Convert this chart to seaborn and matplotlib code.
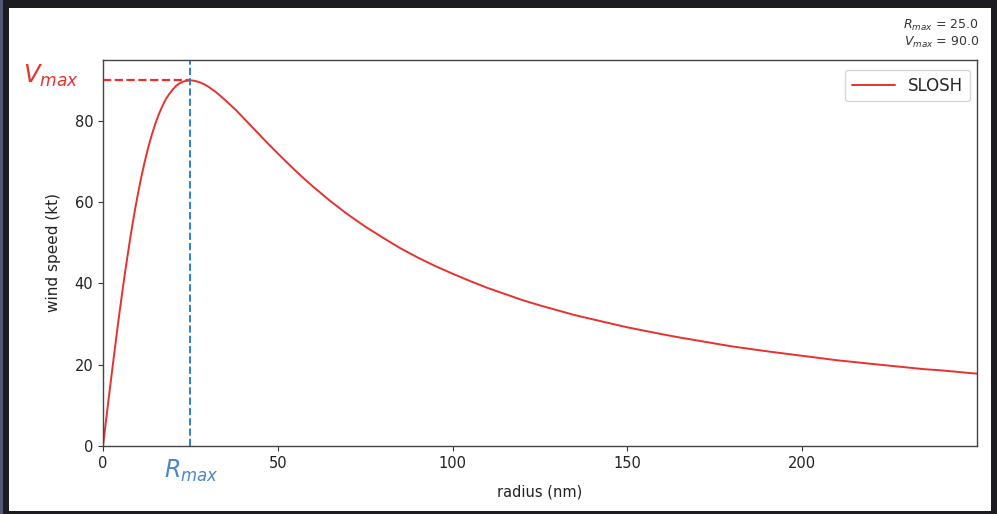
import numpy as np
import pandas as pd
import matplotlib
matplotlib.use("Agg")
import matplotlib.pyplot as plt
import seaborn as sns
from matplotlib.patches import Rectangle

# ---- data ----
radius_nm = [0, 0.5, 1, 1.5, 2, 2.5, 3, 3.5, 4, 4.5, 5, 5.5, 6, 7, 8, 9, 10, 11, 12, 13,
             14, 15, 16, 17, 18, 19, 20, 21, 22, 23, 24, 25, 26, 27, 28, 29, 30, 32,
             33, 35, 36, 38, 40, 42, 45, 47, 50, 52, 55, 57, 60, 65, 70, 75, 80, 85,
             90, 95, 100, 105, 110, 115, 120, 125, 130, 135, 140, 150, 160, 165, 180,
             190, 200, 210, 220, 235, 240, 250]
wind_kt = [0.0, 3.6, 7.2, 10.8, 14.3, 17.8, 21.3, 24.7, 28.1, 31.4, 34.6, 37.8, 40.9,
           46.7, 52.3, 57.4, 62.1, 66.4, 70.2, 73.7, 76.7, 79.4, 81.7, 83.7, 85.4,
           86.7, 87.8, 88.7, 89.3, 89.7, 89.9, 90.0, 89.9, 89.7, 89.4, 89.0, 88.5,
           87.3, 86.6, 85.1, 84.3, 82.7, 80.9, 79.1, 76.4, 74.6, 72.0, 70.3, 67.8,
           66.2, 63.9, 60.3, 57.0, 54.0, 51.3, 48.7, 46.4, 44.3, 42.4, 40.6, 38.9,
           37.4, 35.9, 34.6, 33.4, 32.2, 31.2, 29.2, 27.5, 26.7, 24.5, 23.3, 22.2,
           21.1, 20.2, 18.9, 18.6, 17.8]
series_label = "SLOSH"
r_max = 25.0
v_max = 90.0
x_ticks = [0, 50, 100, 150, 200]
y_ticks = [0, 20, 40, 60, 80]

df = pd.DataFrame({"radius (nm)": radius_nm, "wind speed (kt)": wind_kt})

sns.set_style("ticks")
plt.rcParams['font.family'] = ['DejaVu Sans']

W, H = 997, 514
fig = plt.figure(figsize=(W / 100, H / 100), dpi=100, facecolor="#1d1c22")
# white figure area inside the dark screenshot frame
fig.patches.append(Rectangle((9 / W, 3 / H), (991 - 9) / W, (506 - 3) / H,
                             transform=fig.transFigure, facecolor="white",
                             edgecolor="none", zorder=-10))
fig.patches.append(Rectangle((0, 0), 3 / W, 1, transform=fig.transFigure,
                             facecolor="#4f5a78", edgecolor="none", zorder=-10))

ax = fig.add_axes([103 / W, (H - 446) / H, (977 - 103) / W, (446 - 60) / H])
ax.set_facecolor("white")

red = "#e8312f"
blue = "#2f7fd0"

sns.lineplot(data=df, x="radius (nm)", y="wind speed (kt)", ax=ax, color=red,
             linewidth=1.4, label=series_label)

ax.plot([0, r_max], [v_max, v_max], ls="--", color=red, lw=1.6, clip_on=False)
ax.axvline(r_max, ls="--", color=blue, lw=1.4)

ax.set_xlim(0, 250)
ax.set_ylim(0, 95)
ax.set_xticks(x_ticks)
ax.set_yticks(y_ticks)
ax.tick_params(labelsize=10.5, colors="#333333", labelcolor="#222222")
for s in ax.spines.values():
    s.set_color("#444444")
    s.set_linewidth(1.0)
ax.set_xlabel("radius (nm)", fontsize=10.5, color="#222222", labelpad=10)
ax.set_ylabel("wind speed (kt)", fontsize=11, color="#222222", labelpad=10)

ax.text(-14.8, 91.2, r"$V_{max}$", color=red, fontsize=17.5, ha="center", va="center",
        clip_on=False)
ax.text(25.3, -6.2, r"$R_{max}$", color="#4a86c8", fontsize=17, ha="center",
        va="center", clip_on=False)

fig.text(979 / W, (H - 25) / H, r"$R_{max}$ = %.1f" % r_max, ha="right", va="center",
         fontsize=9, color="#333333")
fig.text(979 / W, (H - 42) / H, r"$V_{max}$ = %.1f" % v_max, ha="right", va="center",
         fontsize=9, color="#333333")

leg = ax.legend(loc="upper right", fontsize=12, frameon=True, handlelength=2.6,
                borderaxespad=0, bbox_to_anchor=(1 - 7 / 874, 1 - 10 / 386))
leg.get_frame().set_edgecolor("#cccccc")

fig.savefig("out.png", dpi=100, facecolor=fig.get_facecolor())
